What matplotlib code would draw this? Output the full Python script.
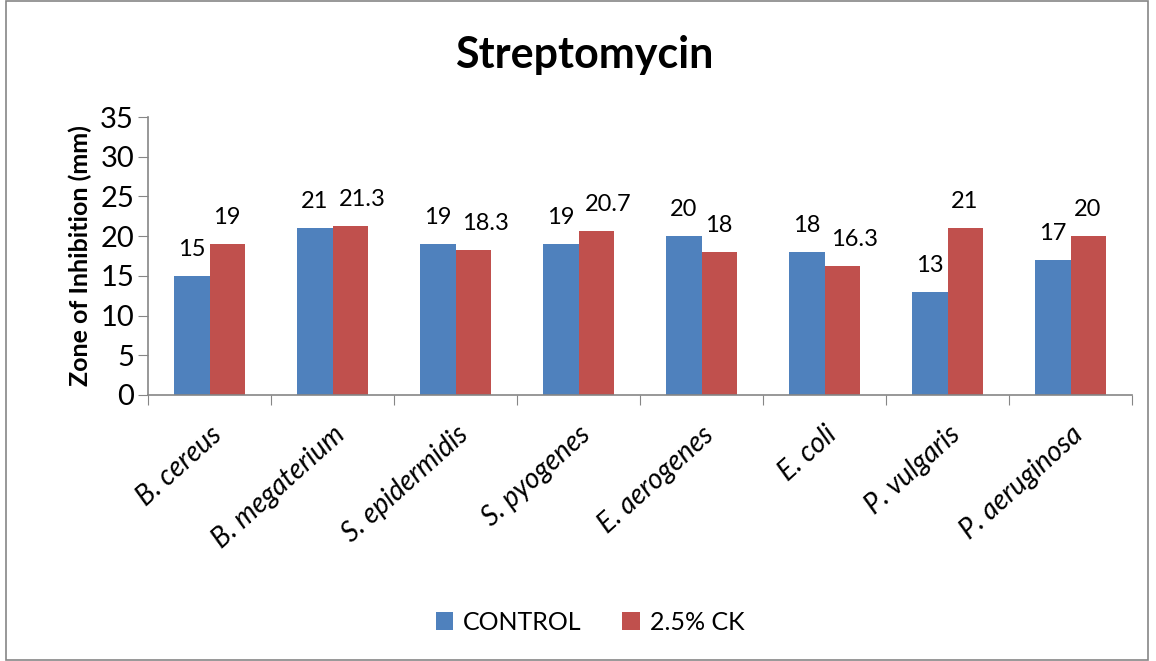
import numpy as np
import matplotlib.pyplot as plt

categories = ['B. cereus', 'B. megaterium', 'S. epidermidis', 'S. pyogenes',
              'E. aerogenes', 'E. coli', 'P. vulgaris', 'P. aeruginosa']
control = [15, 21, 19, 19, 20, 18, 13, 17]
ck = [19, 21.3, 18.3, 20.7, 18, 16.3, 21, 20]
labels_control = ['15', '21', '19', '19', '20', '18', '13', '17']
labels_ck = ['19', '21.3', '18.3', '20.7', '18', '16.3', '21', '20']

plt.rcParams['font.family'] = ['Lato', 'DejaVu Sans']

fig = plt.figure(figsize=(11.56, 6.61), dpi=100)
ax = fig.add_axes([148/1156, 1-395/661, (1132-148)/1156, (395-117)/661])

x = np.arange(len(categories))
w = 0.285
b1 = ax.bar(x - w/2, control, w, color='#4F81BD', label='CONTROL')
b2 = ax.bar(x + w/2, ck, w, color='#C0504D', label='2.5% CK')

# wider decimal labels get pushed right a bit so they clear their neighbour
for bars, texts, side in [(b1, labels_control, -1), (b2, labels_ck, 1)]:
    for bar, t in zip(bars, texts):
        dx = 0
        if '.' in t:
            dx = 9 * side
        ax.annotate(t, (bar.get_x() + bar.get_width()/2, bar.get_height()),
                    xytext=(dx, 19), textcoords='offset points',
                    ha='center', va='center', fontsize=17)

ax.set_xlim(-0.5, len(categories) - 0.5)
ax.set_ylim(0, 35)
ax.set_yticks(range(0, 36, 5))
ax.set_xticks(np.arange(-0.5, len(categories), 1))
ax.set_xticklabels([])
ax.set_xticks(x, minor=True)
ax.set_xticklabels(categories, minor=True, rotation=42, ha='right', va='top',
                   rotation_mode='anchor', fontsize=20, style='italic')
ax.tick_params(axis='x', which='minor', length=0, pad=19)
ax.tick_params(axis='x', which='major', length=7, color='#868686')
ax.tick_params(axis='y', length=7, color='#868686', labelsize=21, pad=3)

for s in ['top', 'right']:
    ax.spines[s].set_visible(False)
for s in ['left', 'bottom']:
    ax.spines[s].set_color('#868686')
    ax.spines[s].set_linewidth(1.2)

ax.set_ylabel('Zone of Inhibition (mm)', fontsize=18, fontweight='bold', labelpad=6)
fig.text(584/1156, 1-55/661, 'Streptomycin', ha='center', va='center',
         fontsize=31, fontweight='bold')

fig.legend(handles=[b1, b2], loc='center', bbox_to_anchor=(590/1156, 1-622/661),
           ncol=2, frameon=False, fontsize=18, handlelength=0.7, handleheight=0.7,
           columnspacing=1.6, handletextpad=0.4)

fig.patches.append(plt.Rectangle((6/1156, 0.002), 1142/1156, 0.996, fill=False,
                                 edgecolor='#868686', linewidth=1.2,
                                 transform=fig.transFigure))

fig.savefig('out.png', dpi=100)
